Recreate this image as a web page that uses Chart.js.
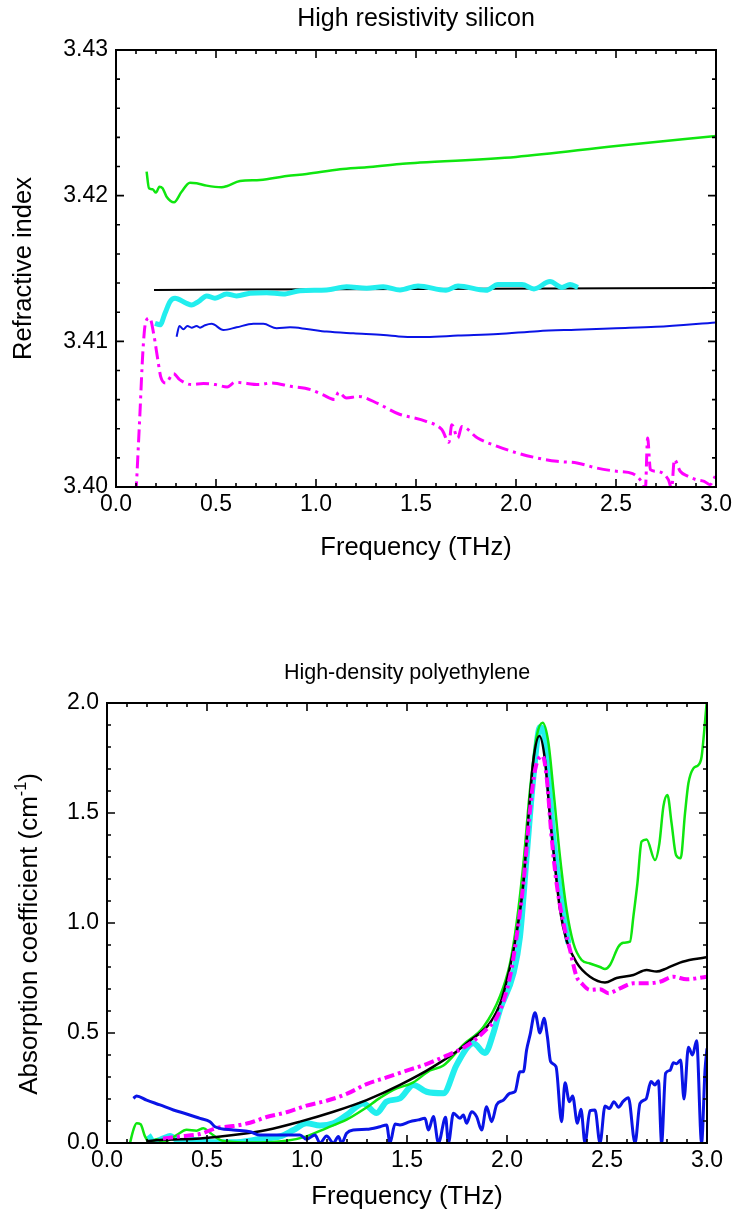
<!DOCTYPE html>
<html>
<head>
<meta charset="utf-8">
<script src="https://cdn.jsdelivr.net/npm/chart.js@4.4.1/dist/chart.umd.min.js"></script>
<style>
  html, body { margin: 0; padding: 0; background: #fff; }
  #wrap { position: relative; width: 732px; height: 1218px; }
  canvas { position: absolute; left: 0; }
  #chart-si { top: 0; }
  #chart-pe { top: 609px; }
</style>
</head>
<body>
<div id="wrap">
  <canvas id="chart-si" width="732" height="609"></canvas>
  <canvas id="chart-pe" width="732" height="609"></canvas>
</div>
<script>
// ---- refractive index, high resistivity silicon ----
const siBlackF = [0.19, 1.5, 3.0];
const siBlackN = [3.41353, 3.4136, 3.41366];

const siGreenF = [0.153, 0.165, 0.183, 0.2, 0.217, 0.233, 0.253, 0.29, 0.328, 0.37, 0.403, 0.453, 0.528, 0.553, 0.62, 0.72, 0.853, 0.953, 1.12, 1.253, 1.42, 1.52, 2.0, 2.5, 3.0];
const siGreenN = [3.42165, 3.42051, 3.42044, 3.42021, 3.42062, 3.42051, 3.41993, 3.41955, 3.42027, 3.42089, 3.42085, 3.42069, 3.42058, 3.42065, 3.42101, 3.42108, 3.42135, 3.42149, 3.42181, 3.42195, 3.42218, 3.42227, 3.42266, 3.42341, 3.4241];

const siCyanF = [0.195, 0.22, 0.245, 0.27, 0.295, 0.353, 0.378, 0.412, 0.453, 0.495, 0.553, 0.603, 0.67, 0.753, 0.837, 0.92, 1.053, 1.153, 1.253, 1.336, 1.42, 1.51, 1.65, 1.71, 1.85, 1.91, 2.03, 2.09, 2.17, 2.23, 2.27, 2.31];
const siCyanN = [3.41124, 3.41113, 3.41193, 3.41273, 3.41296, 3.41261, 3.4125, 3.41273, 3.41312, 3.41296, 3.41325, 3.41312, 3.4133, 3.41334, 3.41325, 3.41348, 3.41353, 3.41375, 3.41365, 3.41375, 3.41353, 3.4138, 3.4135, 3.4138, 3.4135, 3.4139, 3.4139, 3.4136, 3.4141, 3.4137, 3.4139, 3.4137];

const siBlueF = [0.303, 0.317, 0.337, 0.357, 0.378, 0.403, 0.42, 0.445, 0.478, 0.537, 0.603, 0.687, 0.737, 0.803, 0.87, 0.953, 1.053, 1.187, 1.337, 1.437, 1.55, 1.71, 1.91, 2.11, 2.3, 2.5, 2.7, 3.0];
const siBlueN = [3.41032, 3.41106, 3.41083, 3.41106, 3.41094, 3.41106, 3.41094, 3.4111, 3.4112, 3.41078, 3.41096, 3.4112, 3.4112, 3.4109, 3.41096, 3.41085, 3.41067, 3.41055, 3.41044, 3.41032, 3.4103, 3.4104, 3.4105, 3.4107, 3.4108, 3.4109, 3.411, 3.4113];

const siMagentaF = [0.1, 0.119, 0.135, 0.149, 0.169, 0.189, 0.209, 0.223, 0.248, 0.288, 0.318, 0.378, 0.437, 0.497, 0.556, 0.596, 0.715, 0.775, 0.874, 0.974, 1.033, 1.093, 1.113, 1.152, 1.212, 1.311, 1.411, 1.55, 1.629, 1.665, 1.679, 1.709, 1.729, 1.808, 1.907, 2.007, 2.106, 2.205, 2.305, 2.404, 2.503, 2.583, 2.633, 2.647, 2.658, 2.672, 2.702, 2.762, 2.778, 2.792, 2.821, 2.861, 2.901, 2.941, 2.97, 2.996];
const siMagentaN = [3.3995, 3.40485, 3.40943, 3.41137, 3.4116, 3.41046, 3.40874, 3.4076, 3.40714, 3.40778, 3.40737, 3.40703, 3.4071, 3.40703, 3.40687, 3.40719, 3.40703, 3.40714, 3.40691, 3.40668, 3.40634, 3.406, 3.4065, 3.40611, 3.40622, 3.40572, 3.40503, 3.40451, 3.40394, 3.40307, 3.40428, 3.40336, 3.40416, 3.40336, 3.40279, 3.40233, 3.40199, 3.40176, 3.40165, 3.4013, 3.40108, 3.40092, 3.40027, 3.3999, 3.40336, 3.40119, 3.40108, 3.4005, 3.3999, 3.40188, 3.40108, 3.40073, 3.4005, 3.40039, 3.40016, 3.40073];

// ---- absorption coefficient, high-density polyethylene ----
const peBlackF = [0.2, 0.265, 0.465, 0.632, 0.798, 0.965, 1.132, 1.298, 1.465, 1.632, 1.798, 1.96, 2.015, 2.048, 2.082, 2.107, 2.132, 2.162, 2.19, 2.215, 2.24, 2.265, 2.298, 2.348, 2.415, 2.49, 2.548, 2.632, 2.698, 2.748, 2.798, 2.865, 2.932, 2.998];
const peBlackA = [0.008, 0.014, 0.021, 0.036, 0.059, 0.097, 0.142, 0.195, 0.264, 0.347, 0.453, 0.62, 0.8, 0.955, 1.18, 1.48, 1.74, 1.85, 1.74, 1.48, 1.26, 1.06, 0.92, 0.82, 0.756, 0.73, 0.75, 0.764, 0.786, 0.779, 0.794, 0.82, 0.835, 0.844];

const peGreenF = [0.115, 0.132, 0.148, 0.168, 0.19, 0.215, 0.248, 0.282, 0.348, 0.398, 0.448, 0.482, 0.515, 0.565, 0.632, 0.765, 0.898, 0.998, 1.098, 1.198, 1.282, 1.365, 1.432, 1.532, 1.615, 1.682, 1.782, 1.882, 1.965, 2.015, 2.048, 2.082, 2.115, 2.148, 2.178, 2.207, 2.232, 2.265, 2.298, 2.332, 2.373, 2.415, 2.465, 2.49, 2.515, 2.557, 2.582, 2.615, 2.632, 2.652, 2.673, 2.698, 2.74, 2.762, 2.782, 2.802, 2.823, 2.845, 2.868, 2.89, 2.907, 2.932, 2.957, 2.973, 2.985, 2.998];
const peGreenA = [0.0, 0.06, 0.09, 0.085, 0.03, 0.0, 0.017, 0.003, 0.036, 0.06, 0.056, 0.067, 0.047, 0.014, 0.005, 0.002, 0.01, 0.03, 0.068, 0.106, 0.152, 0.205, 0.242, 0.276, 0.33, 0.352, 0.447, 0.527, 0.667, 0.816, 1.0, 1.27, 1.605, 1.847, 1.91, 1.82, 1.605, 1.3, 1.06, 0.908, 0.832, 0.816, 0.8, 0.791, 0.809, 0.892, 0.91, 0.915, 1.03, 1.18, 1.37, 1.38, 1.286, 1.362, 1.53, 1.582, 1.453, 1.309, 1.294, 1.498, 1.635, 1.703, 1.718, 1.756, 1.862, 1.998];

const peCyanF = [0.207, 0.232, 0.282, 0.315, 0.365, 0.432, 0.498, 0.632, 0.765, 0.865, 0.932, 0.998, 1.065, 1.132, 1.198, 1.282, 1.348, 1.398, 1.465, 1.532, 1.598, 1.682, 1.748, 1.832, 1.89, 1.932, 1.965, 2.032, 2.065, 2.098, 2.132, 2.165, 2.182, 2.207, 2.232, 2.265, 2.29, 2.307];
const peCyanA = [0.036, 0.006, 0.021, 0.032, 0.006, 0.014, 0.005, 0.003, 0.018, 0.03, 0.059, 0.09, 0.08, 0.09, 0.127, 0.18, 0.136, 0.188, 0.203, 0.264, 0.233, 0.226, 0.355, 0.453, 0.409, 0.5, 0.606, 0.77, 0.938, 1.3, 1.665, 1.89, 1.877, 1.665, 1.39, 1.15, 1.0, 0.908];

const peMagentaF = [0.28, 0.365, 0.465, 0.548, 0.632, 0.715, 0.798, 0.898, 0.998, 1.098, 1.198, 1.298, 1.398, 1.498, 1.598, 1.698, 1.798, 1.898, 1.957, 2.015, 2.048, 2.082, 2.115, 2.14, 2.178, 2.198, 2.223, 2.248, 2.282, 2.315, 2.348, 2.373, 2.415, 2.465, 2.507, 2.565, 2.632, 2.698, 2.765, 2.832, 2.898, 2.998];
const peMagentaA = [0.02, 0.03, 0.041, 0.068, 0.077, 0.092, 0.118, 0.14, 0.17, 0.192, 0.223, 0.268, 0.298, 0.329, 0.359, 0.397, 0.442, 0.518, 0.586, 0.756, 0.938, 1.18, 1.514, 1.695, 1.759, 1.665, 1.39, 1.18, 1.0, 0.878, 0.756, 0.726, 0.696, 0.699, 0.681, 0.703, 0.726, 0.726, 0.733, 0.756, 0.744, 0.756];

const peBlueF = [0.132, 0.148, 0.198, 0.265, 0.332, 0.398, 0.465, 0.515, 0.54, 0.632, 0.715, 0.765, 0.865, 0.965, 0.998, 1.04, 1.065, 1.098, 1.132, 1.157, 1.173, 1.198, 1.232, 1.298, 1.365, 1.398, 1.415, 1.44, 1.465, 1.515, 1.557, 1.59, 1.607, 1.632, 1.657, 1.693, 1.707, 1.732, 1.765, 1.782, 1.798, 1.823, 1.848, 1.873, 1.898, 1.923, 1.948, 1.982, 2.015, 2.04, 2.065, 2.082, 2.098, 2.115, 2.14, 2.165, 2.185, 2.202, 2.218, 2.245, 2.273, 2.29, 2.312, 2.328, 2.352, 2.37, 2.39, 2.415, 2.44, 2.465, 2.49, 2.512, 2.535, 2.557, 2.582, 2.607, 2.64, 2.665, 2.695, 2.72, 2.74, 2.757, 2.773, 2.793, 2.815, 2.832, 2.848, 2.868, 2.885, 2.907, 2.928, 2.948, 2.973, 2.99, 3.0];
const peBlueA = [0.203, 0.214, 0.195, 0.173, 0.15, 0.132, 0.112, 0.097, 0.074, 0.059, 0.051, 0.036, 0.036, 0.036, 0.017, 0.036, 0.0, 0.032, 0.0, 0.029, 0.0, 0.044, 0.059, 0.062, 0.074, 0.082, 0.0, 0.086, 0.082, 0.097, 0.105, 0.112, 0.059, 0.12, 0.0, 0.117, 0.0, 0.135, 0.112, 0.127, 0.09, 0.142, 0.12, 0.059, 0.165, 0.097, 0.173, 0.195, 0.226, 0.233, 0.324, 0.324, 0.423, 0.49, 0.592, 0.5, 0.567, 0.483, 0.37, 0.347, 0.097, 0.274, 0.188, 0.214, 0.09, 0.153, 0.0, 0.147, 0.15, 0.0, 0.168, 0.157, 0.188, 0.163, 0.19, 0.206, 0.0, 0.18, 0.2, 0.279, 0.264, 0.283, 0.0, 0.317, 0.33, 0.365, 0.36, 0.377, 0.2, 0.435, 0.4, 0.465, 0.0, 0.33, 0.43];

const freqTicks = [0, 0.5, 1.0, 1.5, 2.0, 2.5, 3.0];

const FONT = '"Liberation Sans", Arial, sans-serif';
Chart.defaults.font.family = FONT;
Chart.defaults.color = '#000';

const GREEN = '#0fe60f';
const CYAN = '#22eeee';
const BLUE = '#0a14e6';
const MAGENTA = '#ff00ff';

const pts = (xs, ys) => xs.map((x, i) => ({ x: x, y: ys[i] }));

function series(xs, ys, color, width, dash) {
  return {
    data: pts(xs, ys),
    borderColor: color,
    borderWidth: width,
    borderDash: dash || [],
    pointRadius: 0,
    fill: false,
    cubicInterpolationMode: 'monotone',
    clip: 0,
  };
}

// box frame with inward ticks on all four sides, the heading over the plot,
// and the rotated y-axis title (pieces may be superscripts)
const frameTicks = {
  id: 'frameTicks',
  afterDatasetsDraw(chart, args, opts) {
    const { ctx, chartArea: a, scales: { x, y } } = chart;
    ctx.save();
    ctx.strokeStyle = '#000';
    ctx.lineWidth = 2;
    ctx.strokeRect(a.left, a.top, a.right - a.left, a.bottom - a.top);
    ctx.lineWidth = 1.6;
    ctx.beginPath();
    const nx = Math.round((x.max - x.min) / opts.xMinor);
    for (let i = 0; i <= nx; i++) {
      const px = x.getPixelForValue(x.min + i * opts.xMinor);
      const len = i % opts.xEvery === 0 ? 8 : 4;
      ctx.moveTo(px, a.bottom); ctx.lineTo(px, a.bottom - len);
      ctx.moveTo(px, a.top); ctx.lineTo(px, a.top + len);
    }
    const ny = Math.round((y.max - y.min) / opts.yMinor);
    for (let i = 0; i <= ny; i++) {
      const py = y.getPixelForValue(y.min + i * opts.yMinor);
      const len = i % opts.yEvery === 0 ? 8 : 4;
      ctx.moveTo(a.left, py); ctx.lineTo(a.left + len, py);
      ctx.moveTo(a.right, py); ctx.lineTo(a.right - len, py);
    }
    ctx.stroke();

    ctx.fillStyle = '#000';
    ctx.font = opts.titleSize + 'px ' + FONT;
    ctx.textAlign = 'center';
    ctx.textBaseline = 'middle';
    ctx.fillText(opts.title, (a.left + a.right) / 2, opts.titleY);

    // y-axis title
    const size = opts.yTitleSize;
    const pieces = opts.yTitle.map(p => {
      const s = p.sup ? size * 0.62 : size;
      ctx.font = s + 'px ' + FONT;
      return { text: p.text, font: ctx.font, w: ctx.measureText(p.text).width, rise: p.sup ? size * 0.42 : 0 };
    });
    const total = pieces.reduce((t, p) => t + p.w, 0);
    ctx.translate(opts.yTitleX, (a.top + a.bottom) / 2 + opts.yTitleShift);
    ctx.rotate(-Math.PI / 2);
    ctx.textAlign = 'left';
    ctx.textBaseline = 'alphabetic';
    let cx = -total / 2;
    const base = size * 0.36;
    pieces.forEach(p => {
      ctx.font = p.font;
      ctx.fillText(p.text, cx, base - p.rise);
      cx += p.w;
    });
    ctx.restore();
  }
};

function makeOptions(cfg) {
  return {
    responsive: false,
    animation: false,
    devicePixelRatio: 1,
    layout: { padding: { left: 0, right: cfg.padRight, top: cfg.padTop, bottom: 0 } },
    plugins: {
      legend: { display: false },
      tooltip: { enabled: false },
      title: { display: false },
      frameTicks: cfg.frame,
    },
    scales: {
      x: {
        type: 'linear',
        min: 0, max: 3,
        afterBuildTicks: s => { s.ticks = freqTicks.map(v => ({ value: v })); },
        afterFit: s => { s.height = cfg.xHeight; s.paddingLeft = 0; s.paddingRight = 0; },
        grid: { display: false, drawTicks: false },
        border: { display: false },
        ticks: { font: { size: 23 }, padding: 4, maxRotation: 0, callback: v => v.toFixed(1) },
        title: { display: true, text: 'Frequency (THz)', font: { size: 25.5 }, padding: { top: 0, bottom: cfg.xTitlePad } },
      },
      y: {
        type: 'linear',
        min: cfg.yMin, max: cfg.yMax,
        afterBuildTicks: s => { s.ticks = cfg.yTicks.map(v => ({ value: v })); },
        afterFit: s => { s.width = cfg.yWidth; s.paddingTop = 0; s.paddingBottom = 0; },
        grid: { display: false, drawTicks: false },
        border: { display: false },
        ticks: { font: { size: 23 }, padding: 8, callback: v => v.toFixed(cfg.yDigits) },
        title: { display: false },
      },
    },
  };
}

new Chart(document.getElementById('chart-si').getContext('2d'), {
  type: 'line',
  data: {
    datasets: [
      series(siMagentaF, siMagentaN, MAGENTA, 3, [13, 5, 3, 5]),
      series(siCyanF, siCyanN, CYAN, 5),
      series(siBlackF, siBlackN, '#000', 2),
      series(siGreenF, siGreenN, GREEN, 2.5),
      series(siBlueF, siBlueN, BLUE, 2),
    ],
  },
  options: makeOptions({
    padTop: 50, padRight: 16, xHeight: 122, xTitlePad: 45.7, yWidth: 116,
    yMin: 3.40, yMax: 3.43, yTicks: [3.40, 3.41, 3.42, 3.43], yDigits: 2,
    frame: { xMinor: 0.1, xEvery: 5, yMinor: 0.002, yEvery: 5,
             title: 'High resistivity silicon', titleSize: 25, titleY: 19,
             yTitle: [{ text: 'Refractive index' }], yTitleSize: 25.5, yTitleX: 22, yTitleShift: 0 },
  }),
  plugins: [frameTicks],
});

new Chart(document.getElementById('chart-pe').getContext('2d'), {
  type: 'line',
  data: {
    datasets: [
      series(peBlueF, peBlueA, BLUE, 3),
      series(peMagentaF, peMagentaA, MAGENTA, 4, [10, 4, 3, 4]),
      series(peBlackF, peBlackA, '#000', 2.5),
      series(peGreenF, peGreenA, GREEN, 2.5),
      series(peCyanF, peCyanA, CYAN, 6),
    ],
  },
  options: makeOptions({
    padTop: 94, padRight: 25, xHeight: 75, xTitlePad: 5.7, yWidth: 107,
    yMin: 0, yMax: 2, yTicks: [0, 0.5, 1.0, 1.5, 2.0], yDigits: 1,
    frame: { xMinor: 0.1, xEvery: 5, yMinor: 0.1, yEvery: 5,
             title: 'High-density polyethylene', titleSize: 21.5, titleY: 64,
             yTitle: [{ text: 'Absorption coefficient (cm' }, { text: '-1', sup: true }, { text: ')' }],
             yTitleSize: 26, yTitleX: 28, yTitleShift: 11 },
  }),
  plugins: [frameTicks],
});
</script>
</body>
</html>
